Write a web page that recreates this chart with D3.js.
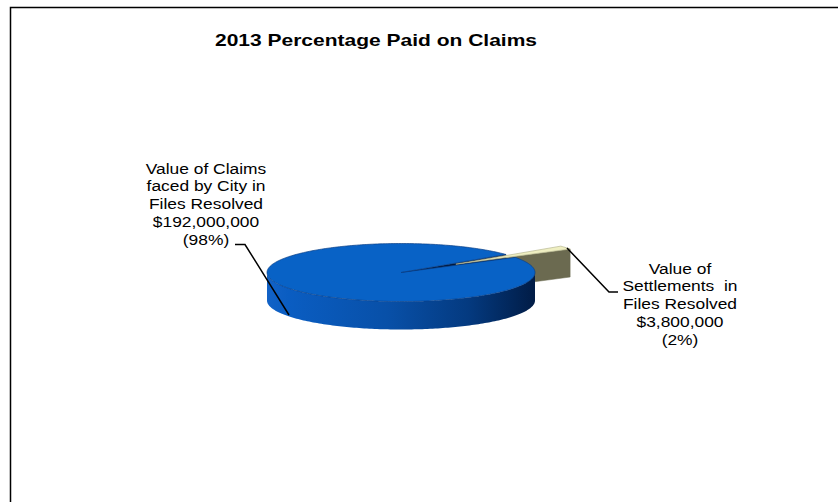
<!DOCTYPE html>
<html>
<head>
<meta charset="utf-8">
<script src="https://cdn.jsdelivr.net/npm/d3@7"></script>
<style>
html,body{margin:0;padding:0;background:#fff;}
svg{display:block;}
text{font-family:"Liberation Sans",Arial,sans-serif;fill:#000;}
</style>
</head>
<body>
<svg id="chart" width="838" height="502"></svg>
<script>
// ---- data ----
const title = "2013 Percentage Paid on Claims";
const categories = ["Value of Claims faced by City in Files Resolved", "Value of Settlements in Files Resolved"];
const categoryLines = [
  ["Value of Claims", "faced by City in", "Files Resolved"],
  ["Value of", "Settlements  in", "Files Resolved"]
];
const values = [192000000, 3800000];
const explode = [0, 0.5];
const topColors = ["#0862c6", "#efefc2"];
const sideColors = ["#0a5cc0", "#6b6a50"];
const radialColors = ["#00183c", "#6b6a50"];

// ---- layout ----
const svg = d3.select("#chart");
const W = 838, H = 502;
const cx = 401, cy = 272.5, rx = 134, ry = 29, depth = 28;

// frame
svg.append("path").attr("d", `M10.5,${H+5}V7.5H${W+5}`)
  .attr("fill", "none").attr("stroke", "#000").attr("stroke-width", 1.5);

svg.append("text").attr("x", 215).attr("y", 46)
  .attr("font-size", 17).attr("font-weight", "bold")
  .attr("textLength", 322).attr("lengthAdjust", "spacingAndGlyphs")
  .text(title);

const total = d3.sum(values);
const smallCenter = 55 * Math.PI / 180;
const halfSpan = Math.PI * values[1] / total;
const s0 = smallCenter + halfSpan;
const pie = d3.pie().sort(null).startAngle(s0).endAngle(s0 + 2 * Math.PI);
const arcs = pie(values);

const sx = d3.scaleLinear().domain([-1, 1]).range([cx - rx, cx + rx]);
const sy = d3.scaleLinear().domain([-1, 1]).range([cy - ry, cy + ry]);

function off(d, i) {
  const m = (d.startAngle + d.endAngle) / 2, e = explode[i];
  return [e * Math.sin(m), -e * Math.cos(m)];
}
function P(a, r, o, z) {
  return [sx(o[0] + r * Math.sin(a)), sy(o[1] - r * Math.cos(a)) + z];
}
function samples(a0, a1) {
  const n = Math.max(2, Math.ceil(Math.abs(a1 - a0) / 0.02));
  return d3.range(n + 1).map(k => a0 + (a1 - a0) * k / n);
}
const line = d3.line();

const defs = svg.append("defs");
const grad = defs.append("linearGradient").attr("id", "sideGrad")
  .attr("gradientUnits", "userSpaceOnUse")
  .attr("x1", cx - rx).attr("x2", cx + rx).attr("y1", 0).attr("y2", 0);
[[0, "#1262c6"], [0.08, "#0a5dc2"], [0.45, "#0850a8"], [0.75, "#043a80"], [1, "#011c46"]]
  .forEach(([o, c]) => grad.append("stop").attr("offset", o).attr("stop-color", c));

const g = svg.append("g");

function radialFace(d, i) {
  const o = off(d, i), a = d.endAngle;
  const pts = [P(a, 0, o, 0), P(a, 1, o, 0), P(a, 1, o, depth), P(a, 0, o, depth)];
  g.append("path").attr("d", line(pts) + "Z").attr("fill", radialColors[i])
    .attr("stroke", radialColors[i]).attr("stroke-width", 0.5);
}
function outerSide(d, i) {
  const o = off(d, i);
  for (let k = 0; k < 2; k++) {
    const lo = Math.max(d.startAngle, Math.PI / 2 + 2 * Math.PI * k);
    const hi = Math.min(d.endAngle, 3 * Math.PI / 2 + 2 * Math.PI * k);
    if (hi <= lo) continue;
    const as = samples(lo, hi);
    const pts = as.map(a => P(a, 1, o, 0)).concat(as.slice().reverse().map(a => P(a, 1, o, depth)));
    g.append("path").attr("d", line(pts) + "Z")
      .attr("fill", i === 0 ? "url(#sideGrad)" : sideColors[i]);
  }
}
function topFace(d, i) {
  const o = off(d, i);
  const pts = [P(0, 0, o, 0)].concat(samples(d.startAngle, d.endAngle).map(a => P(a, 1, o, 0)));
  g.append("path").attr("d", line(pts) + "Z").attr("fill", topColors[i])
    .attr("stroke", i === 0 ? "#0a3f86" : "#b8b890").attr("stroke-width", 0.7)
    .attr("stroke-linejoin", "round");
}

// draw order: exploded small slice faces, big slice, small slice top
radialFace(arcs[1], 1);
outerSide(arcs[1], 1);
radialFace(arcs[0], 0);
outerSide(arcs[0], 0);
topFace(arcs[0], 0);
topFace(arcs[1], 1);

// ---- labels ----
const fmtMoney = d3.format("$,");
const fmtPct = v => "(" + Math.round(v / total * 100) + "%)";
const labelPos = [{x: 206, y: 173.5}, {x: 680, y: 273.5}];
const lineH = 17.8;
values.forEach((v, i) => {
  const lines = categoryLines[i].concat([fmtMoney(v), fmtPct(v)]);
  const lg = svg.append("g")
    .attr("transform", `translate(${labelPos[i].x},${labelPos[i].y}) scale(1.13,1)`);
  lines.forEach((l, k) => lg.append("text").attr("x", 0).attr("y", k * lineH)
    .attr("font-size", 15.4).attr("text-anchor", "middle")
    .style("white-space", "pre").text(l));
});

// leader lines
const leaders = [
  [[235, 244.5], [245, 244.5], [289, 315]],
  [[567, 248], [609, 292], [618, 292]]
];
leaders.forEach(pts => svg.append("path").attr("d", line(pts))
  .attr("fill", "none").attr("stroke", "#000").attr("stroke-width", 1.5));
</script>
</body>
</html>
